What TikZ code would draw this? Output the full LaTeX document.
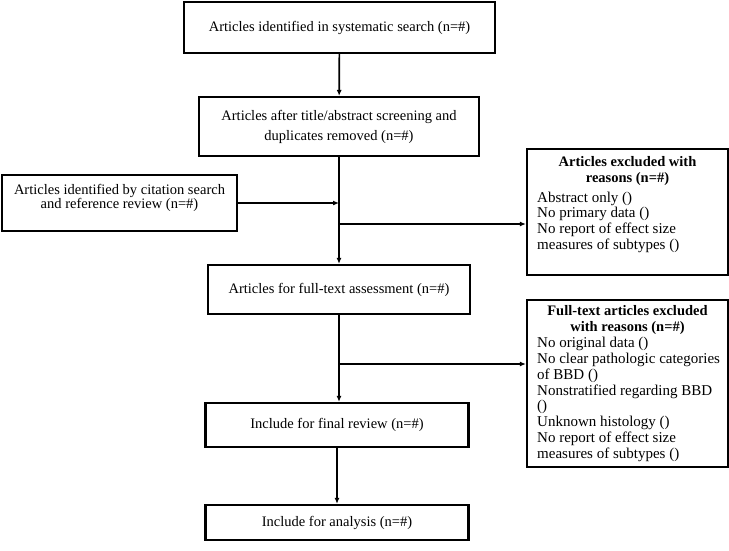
\documentclass[tikz,border=0pt]{standalone}
\usepackage{fontspec}
\setmainfont{Liberation Serif}
\usetikzlibrary{arrows.meta}
\begin{document}
\begin{tikzpicture}[x=1pt,y=-1pt,
  box/.style={draw, line width=2.2pt, inner sep=0pt, align=center,
    font=\fontsize{14.5}{16}\selectfont},
  arr/.style={line width=1.7pt, -{Latex[length=6pt,width=5pt]}},
  ttl/.style={inner sep=0pt, align=center, font=\fontsize{14.5}{16}\selectfont\bfseries},
  lst/.style={inner sep=0pt, align=left, font=\fontsize{15}{15.8}\selectfont}]
\useasboundingbox (0,0) rectangle (729,550);
\node[box, minimum width=311, minimum height=51] (b1) at (339.5,27.5)
  {Articles identified in systematic search (n=\#)};
\node[box, minimum width=280, minimum height=59, font=\fontsize{14.5}{20}\selectfont] (b2) at (339,126.5)
  {Articles after title/abstract screening and\\duplicates removed (n=\#)};
\node[box, minimum width=235, minimum height=56, font=\fontsize{14.5}{14.5}\selectfont] (cite) at (119.5,203)
  {\raisebox{0pt}[10pt][0pt]{}Articles identified by citation search\\and reference review (n=\#)\\[-6pt]\strut};
\node[box, minimum width=262, minimum height=49] (b3) at (339,289.5)
  {Articles for full-text assessment (n=\#)};
\node[box, minimum width=263, minimum height=44] (fin) at (337,425)
  {Include for final review (n=\#)};
\node[box, minimum width=263, minimum height=35] (ana) at (337,522.5)
  {Include for analysis (n=\#)};
\node[box, minimum width=201, minimum height=126] (ex1) at (627.5,212) {};
\node[box, minimum width=201, minimum height=167] (ex2) at (627.5,383.5) {};
\node[ttl, anchor=north] (ex1t) at (627.5,156) {Articles excluded with\\reasons (n=\#)};
\node[lst, anchor=north west] (ex1l) at (537,191.5)
  {Abstract only ()\\No primary data ()\\No report of effect size\\measures of subtypes ()};
\node[ttl, anchor=north] (ex2t) at (627.5,305) {Full-text articles excluded\\with reasons (n=\#)};
\node[lst, anchor=north west] (ex2l) at (537,337)
  {No original data ()\\No clear pathologic categories\\of BBD ()\\Nonstratified regarding BBD\\()\\Unknown histology ()\\No report of effect size\\measures of subtypes ()};
\coordinate (j1) at (339,203);
\coordinate (j2) at (339,224);
\coordinate (j3) at (339,364);
\draw[arr] (b1) -- (b2);
\draw[arr] (b2.south) -- (b3.north);
\draw[arr] (cite.east) -- (j1);
\draw[arr] (j2) -- (j2 -| ex1.west);
\draw[arr] (b3.south) -- (b3.south |- fin.north);
\draw[arr] (j3) -- (j3 -| ex2.west);
\draw[arr] (fin) -- (ana);
\end{tikzpicture}
\end{document}
